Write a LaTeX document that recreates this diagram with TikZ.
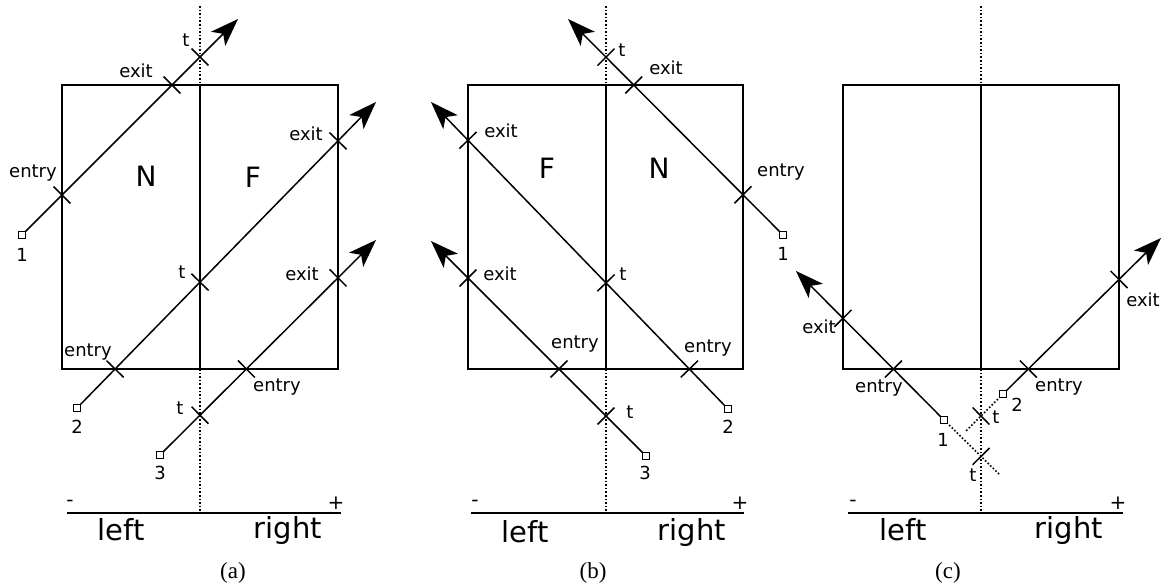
\documentclass[tikz,border=0pt]{standalone}
\usepackage{fontspec}
\setmainfont{DejaVu Sans}
\newfontfamily\capfont{Liberation Serif}
\usetikzlibrary{calc,arrows.meta}
\newcommand\tk[2]{\draw[tkline] ($(#1)!12pt!90:(#2)$) -- ($(#1)!12pt!-90:(#2)$);}
\begin{document}
\begin{tikzpicture}[x=1pt,y=-1pt,
  box/.style={line width=2pt},
  ray/.style={line width=1.5pt,-{Stealth[length=28pt,width=20pt,inset=7pt]}},
  tkline/.style={line width=1.5pt},
  dotline/.style={line width=1.6pt,dash pattern=on 1.6pt off 2pt},
  axisline/.style={line width=2pt},
  sq/.style={draw,fill=white,line width=0.9pt,minimum size=7pt,inner sep=0pt},
  lb/.style={inner sep=0pt,font=\fontsize{18}{20}\selectfont},
  big/.style={inner sep=0pt,font=\fontsize{28}{32}\selectfont},
  side/.style={inner sep=0pt,font=\fontsize{29}{33}\selectfont},
  pm/.style={inner sep=0pt,font=\fontsize{20}{24}\selectfont},
  captxt/.style={inner sep=0pt,font=\capfont\fontsize{23}{26}\selectfont}]
\useasboundingbox (0,0) rectangle (1163,585);

% ================= panel (a) =================
\coordinate (aTL) at (62,85); \coordinate (aTR) at (338,85);
\coordinate (aBL) at (62,369); \coordinate (aBR) at (338,369);
\coordinate (aMT) at (200,85); \coordinate (aMB) at (200,369);
\coordinate (aDT) at (200,6); \coordinate (aDB) at (200,513);
\coordinate (aAL) at (67,513); \coordinate (aAR) at (341,513);
\draw[box] (aTL) rectangle (aBR);
\draw[box] (aMT) -- (aMB);
\draw[dotline] (aDT) -- (aMT);
\draw[dotline] (aMB) -- (aDB);
\draw[axisline] (aAL) -- (aAR);
\node[pm] (aminus) at (70,503) {-};
\node[pm] (aplus) at (336,503) {+};
\node[side] (aleft) at (121,530) {left};
\node[side] (aright) at (288,530) {right};
\node[captxt] (acap) at (233,573) {(a)};
\node[big] (aN) at (146,176) {N};
\node[big] (aF) at (253,177) {F};
% ray 1
\coordinate (a1) at (22,235); \coordinate (a1t) at (238,19);
\draw[ray] (a1) -- (a1t);
\node[sq] (a1s) at (a1) {};
\coordinate (a1en) at (intersection of a1--a1t and aTL--aBL);
\coordinate (a1ex) at (intersection of a1--a1t and aTL--aTR);
\coordinate (a1tt) at (intersection of a1--a1t and aDT--aDB);
\tk{a1en}{a1t} \tk{a1ex}{a1t} \tk{a1tt}{a1t}
\node[lb] (a1entry) at (33,173) {entry};
\node[lb] (a1exit) at (136,71) {exit};
\node[lb] (a1tl) at (186,40) {t};
\node[lb] (a1n) at (22,255) {1};
% ray 2
\coordinate (a2) at (77,408); \coordinate (a2t) at (376,102);
\draw[ray] (a2) -- (a2t);
\node[sq] (a2s) at (a2) {};
\coordinate (a2en) at (intersection of a2--a2t and aBL--aBR);
\coordinate (a2ex) at (intersection of a2--a2t and aTR--aBR);
\coordinate (a2tt) at (intersection of a2--a2t and aDT--aDB);
\tk{a2en}{a2t} \tk{a2ex}{a2t} \tk{a2tt}{a2t}
\node[lb] (a2entry) at (88,352) {entry};
\node[lb] (a2exit) at (306,134) {exit};
\node[lb] (a2tl) at (182,272) {t};
\node[lb] (a2n) at (77,427) {2};
% ray 3
\coordinate (a3) at (160,455); \coordinate (a3t) at (376,240);
\draw[ray] (a3) -- (a3t);
\node[sq] (a3s) at (a3) {};
\coordinate (a3en) at (intersection of a3--a3t and aBL--aBR);
\coordinate (a3ex) at (intersection of a3--a3t and aTR--aBR);
\coordinate (a3tt) at (intersection of a3--a3t and aDT--aDB);
\tk{a3en}{a3t} \tk{a3ex}{a3t} \tk{a3tt}{a3t}
\node[lb] (a3entry) at (277,387) {entry};
\node[lb] (a3exit) at (302,274) {exit};
\node[lb] (a3tl) at (180,408) {t};
\node[lb] (a3n) at (160,473) {3};

% ================= panel (b) =================
\coordinate (bTL) at (468,85); \coordinate (bTR) at (743,85);
\coordinate (bBL) at (468,369); \coordinate (bBR) at (743,369);
\coordinate (bMT) at (606,85); \coordinate (bMB) at (606,369);
\coordinate (bDT) at (606,6); \coordinate (bDB) at (606,513);
\coordinate (bAL) at (471,513); \coordinate (bAR) at (744,513);
\draw[box] (bTL) rectangle (bBR);
\draw[box] (bMT) -- (bMB);
\draw[dotline] (bDT) -- (bMT);
\draw[dotline] (bMB) -- (bDB);
\draw[axisline] (bAL) -- (bAR);
\node[pm] (bminus) at (475,503) {-};
\node[pm] (bplus) at (740,503) {+};
\node[side] (bleft) at (525,532) {left};
\node[side] (bright) at (692,532) {right};
\node[captxt] (bcap) at (593,573) {(b)};
\node[big] (bF) at (547,168) {F};
\node[big] (bN) at (659,168) {N};
% ray 1
\coordinate (b1) at (783,235); \coordinate (b1t) at (568,19);
\draw[ray] (b1) -- (b1t);
\node[sq] (b1s) at (b1) {};
\coordinate (b1en) at (intersection of b1--b1t and bTR--bBR);
\coordinate (b1ex) at (intersection of b1--b1t and bTL--bTR);
\coordinate (b1tt) at (intersection of b1--b1t and bDT--bDB);
\tk{b1en}{b1t} \tk{b1ex}{b1t} \tk{b1tt}{b1t}
\node[lb] (b1entry) at (781,172) {entry};
\node[lb] (b1exit) at (666,68) {exit};
\node[lb] (b1tl) at (622,50) {t};
\node[lb] (b1n) at (783,254) {1};
% ray 2
\coordinate (b2) at (728,409); \coordinate (b2t) at (431,102);
\draw[ray] (b2) -- (b2t);
\node[sq] (b2s) at (b2) {};
\coordinate (b2en) at (intersection of b2--b2t and bBL--bBR);
\coordinate (b2ex) at (intersection of b2--b2t and bTL--bBL);
\coordinate (b2tt) at (intersection of b2--b2t and bDT--bDB);
\tk{b2en}{b2t} \tk{b2ex}{b2t} \tk{b2tt}{b2t}
\node[lb] (b2entry) at (708,348) {entry};
\node[lb] (b2exit) at (501,131) {exit};
\node[lb] (b2tl) at (623,274) {t};
\node[lb] (b2n) at (728,427) {2};
% ray 3
\coordinate (b3) at (646,456); \coordinate (b3t) at (431,241);
\draw[ray] (b3) -- (b3t);
\node[sq] (b3s) at (b3) {};
\coordinate (b3en) at (intersection of b3--b3t and bBL--bBR);
\coordinate (b3ex) at (intersection of b3--b3t and bTL--bBL);
\coordinate (b3tt) at (intersection of b3--b3t and bDT--bDB);
\tk{b3en}{b3t} \tk{b3ex}{b3t} \tk{b3tt}{b3t}
\node[lb] (b3entry) at (575,344) {entry};
\node[lb] (b3exit) at (500,274) {exit};
\node[lb] (b3tl) at (630,412) {t};
\node[lb] (b3n) at (645,473) {3};

% ================= panel (c) =================
\coordinate (cTL) at (843,85); \coordinate (cTR) at (1119,85);
\coordinate (cBL) at (843,369); \coordinate (cBR) at (1119,369);
\coordinate (cMT) at (981,85); \coordinate (cMB) at (981,369);
\coordinate (cDT) at (981,6); \coordinate (cDB) at (981,513);
\coordinate (cAL) at (848,513); \coordinate (cAR) at (1123,513);
\draw[box] (cTL) rectangle (cBR);
\draw[box] (cMT) -- (cMB);
\draw[dotline] (cDT) -- (cMT);
\draw[dotline] (cMB) -- (cDB);
\draw[axisline] (cAL) -- (cAR);
\node[pm] (cminus) at (853,503) {-};
\node[pm] (cplus) at (1118,503) {+};
\node[side] (cleft) at (903,530) {left};
\node[side] (cright) at (1069,530) {right};
\node[captxt] (ccap) at (948,573) {(c)};
% ray 1
\coordinate (c1) at (944,420); \coordinate (c1t) at (796,271);
\coordinate (c1x) at (999,474);
\draw[ray] (c1) -- (c1t);
\draw[dotline] (c1) -- (c1x);
\node[sq] (c1s) at (c1) {};
\coordinate (c1en) at (intersection of c1--c1t and cBL--cBR);
\coordinate (c1ex) at (intersection of c1--c1t and cTL--cBL);
\coordinate (c1tt) at (intersection of c1--c1x and cDT--cDB);
\tk{c1en}{c1t} \tk{c1ex}{c1t} \tk{c1tt}{c1t}
\node[lb] (c1entry) at (879,388) {entry};
\node[lb] (c1exit) at (819,327) {exit};
\node[lb] (c1tl) at (973,475) {t};
\node[lb] (c1n) at (943,440) {1};
% ray 2
\coordinate (c2) at (1003,394); \coordinate (c2t) at (1161,238);
\coordinate (c2x) at (965,432);
\draw[ray] (c2) -- (c2t);
\draw[dotline] (c2) -- (c2x);
\node[sq] (c2s) at (c2) {};
\coordinate (c2en) at (intersection of c2--c2t and cBL--cBR);
\coordinate (c2ex) at (intersection of c2--c2t and cTR--cBR);
\coordinate (c2tt) at (intersection of c2--c2x and cDT--cDB);
\tk{c2en}{c2t} \tk{c2ex}{c2t} \tk{c2tt}{c2t}
\node[lb] (c2entry) at (1059,387) {entry};
\node[lb] (c2exit) at (1143,300) {exit};
\node[lb] (c2tl) at (996,417) {t};
\node[lb] (c2n) at (1017,405) {2};
\end{tikzpicture}
\end{document}
